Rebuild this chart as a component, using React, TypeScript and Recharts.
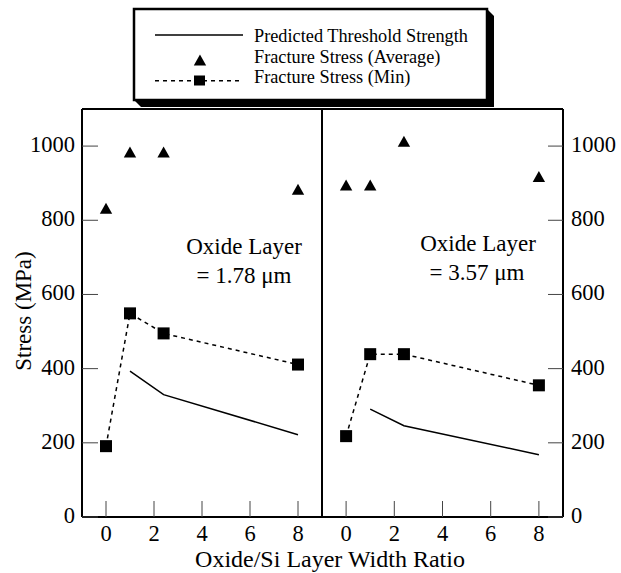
import React from 'react';
import { ComposedChart, Line, Scatter, XAxis, YAxis, ReferenceLine } from 'recharts';

// ---- data ----
const leftRatio = [0, 1, 2.4, 8];
const leftAvg = [831, 983, 983, 882];
const leftMin = [191, 549, 495, 411];
const leftPredRatio = [1, 2.4, 8];
const leftPred = [393, 330, 222];

const rightRatio = [0, 1, 2.4, 8];
const rightAvg = [894, 894, 1012, 917];
const rightMin = [218, 439, 439, 355];
const rightPredRatio = [1, 2.4, 8];
const rightPred = [291, 246, 168];

const xTicks = [0, 2, 4, 6, 8];
const yTicks = [0, 200, 400, 600, 800, 1000];
const xDomain = [-1, 9];
const yDomain = [0, 1100];

const legendLabels = ['Predicted Threshold Strength', 'Fracture Stress (Average)', 'Fracture Stress (Min)'];
const leftNote = ['Oxide Layer', '= 1.78 \u03bcm'];
const rightNote = ['Oxide Layer', '= 3.57 \u03bcm'];
const xTitle = 'Oxide/Si Layer Width Ratio';
const yTitle = 'Stress (MPa)';

const toPts = (xs: number[], ys: number[]) => xs.map((x, i) => ({ x, y: ys[i] }));

const FONT = '"Liberation Serif", "Times New Roman", Times, serif';
const TICK_FS = 22.5;

const BottomTick = (props: any) => {
  const { x, y, payload } = props;
  return (
    <g>
      <line x1={x} y1={y} x2={x} y2={y - 16} stroke="#444" strokeWidth={1} />
      <text x={x} y={y + 23.5} textAnchor="middle" fontFamily={FONT} fontSize={TICK_FS} fill="#000">
        {payload.value}
      </text>
    </g>
  );
};

const LeftTick = (props: any) => {
  const { x, y, payload } = props;
  return (
    <g>
      <line x1={x} y1={y} x2={x + 16} y2={y} stroke="#444" strokeWidth={1} />
      <text x={x - 7} y={y + 6} textAnchor="end" fontFamily={FONT} fontSize={TICK_FS} fill="#000">
        {payload.value}
      </text>
    </g>
  );
};

const RightTick = (props: any) => {
  const { x, y, payload } = props;
  return (
    <g>
      <line x1={x} y1={y} x2={x - 15} y2={y} stroke="#444" strokeWidth={1} />
      <text x={x + 8} y={y + 6} textAnchor="start" fontFamily={FONT} fontSize={TICK_FS} fill="#000">
        {payload.value}
      </text>
    </g>
  );
};

const Triangle = (p: any) => (
  <polygon
    points={`${p.cx},${p.cy - 6} ${p.cx + 6.2},${p.cy + 5} ${p.cx - 6.2},${p.cy + 5}`}
    fill="#000"
  />
);

const SquareDot = (p: any) => (
  <rect key={`sq-${p.index}`} x={p.cx - 6} y={p.cy - 6} width={12} height={12} fill="#000" />
);

const Panel = ({
  left,
  width,
  marginRight,
  leftAxisWidth,
  showLeftTicks,
  rightAxisWidth,
  ratio,
  avg,
  min,
  predRatio,
  pred,
}: any) => {
  const yid = showLeftTicks ? 'l' : 'r';
  return (
    <div style={{ position: 'absolute', left, top: 0, width, height: 573 }}>
      <ComposedChart
        width={width}
        height={573}
        margin={{ top: 109, right: marginRight, bottom: 26, left: 0 }}
      >
        <XAxis
          type="number"
          dataKey="x"
          domain={xDomain}
          ticks={xTicks}
          interval={0}
          tickSize={0}
          tickMargin={0}
          height={30}
          axisLine={{ stroke: '#000', strokeWidth: 2 }}
          tickLine={false}
          tick={<BottomTick />}
        />
        <YAxis
          yAxisId="l"
          type="number"
          dataKey="y"
          domain={yDomain}
          ticks={yTicks}
          interval={0}
          width={leftAxisWidth}
          tickSize={0}
          tickMargin={0}
          axisLine={{ stroke: '#000', strokeWidth: 2 }}
          tickLine={false}
          tick={showLeftTicks ? <LeftTick /> : false}
        />
        {rightAxisWidth ? (
          <YAxis
            yAxisId="r"
            orientation="right"
            type="number"
            dataKey="y"
            domain={yDomain}
            ticks={yTicks}
            interval={0}
            width={rightAxisWidth}
            tickSize={0}
            tickMargin={0}
            axisLine={{ stroke: '#000', strokeWidth: 2 }}
            tickLine={false}
            tick={<RightTick />}
          />
        ) : null}
        <ReferenceLine yAxisId={yid} y={1100} stroke="#000" strokeWidth={2} />
        <Line
          yAxisId={yid}
          data={toPts(predRatio, pred)}
          dataKey="y"
          type="linear"
          stroke="#000"
          strokeWidth={1.5}
          dot={false}
          isAnimationActive={false}
        />
        <Line
          yAxisId={yid}
          data={toPts(ratio, min)}
          dataKey="y"
          type="linear"
          stroke="#000"
          strokeWidth={1.5}
          strokeDasharray="4 4"
          dot={SquareDot}
          activeDot={false}
          isAnimationActive={false}
        />
        <Scatter
          yAxisId={yid}
          data={toPts(ratio, avg)}
          dataKey="y"
          shape={Triangle}
          isAnimationActive={false}
        />
      </ComposedChart>
    </div>
  );
};

export default function App() {
  return (
    <div style={{ position: 'absolute', left: 0, top: 0, width: 621, height: 573, background: '#fff' }}>
      <Panel
        left={0}
        width={324}
        marginRight={2}
        leftAxisWidth={82}
        showLeftTicks={true}
        rightAxisWidth={0}
        ratio={leftRatio}
        avg={leftAvg}
        min={leftMin}
        predRatio={leftPredRatio}
        pred={leftPred}
      />
      <Panel
        left={300}
        width={321}
        marginRight={0}
        leftAxisWidth={22}
        showLeftTicks={false}
        rightAxisWidth={58}
        ratio={rightRatio}
        avg={rightAvg}
        min={rightMin}
        predRatio={rightPredRatio}
        pred={rightPred}
      />
      <svg
        width={621}
        height={573}
        style={{ position: 'absolute', left: 0, top: 0, pointerEvents: 'none' }}
        fontFamily={FONT}
      >
        {/* legend box with shadow */}
        <polygon points="487,9 494,16 494,107 141,107 134,100" fill="#000" />
        <rect x={134} y={9} width={353} height={91} fill="#fff" stroke="#000" strokeWidth={2.5} />
        <line x1={155} y1={35} x2={243} y2={35} stroke="#000" strokeWidth={1.5} />
        <polygon points="200,54.5 206.2,65.5 193.8,65.5" fill="#000" />
        <line x1={155} y1={80.7} x2={243} y2={80.7} stroke="#000" strokeWidth={1.5} strokeDasharray="4 4" />
        <rect x={194} y={75.5} width={11} height={10} fill="#000" />
        <text x={254} y={41.5} fontSize={18.3} fill="#000">{legendLabels[0]}</text>
        <text x={254} y={62.5} fontSize={18.3} fill="#000">{legendLabels[1]}</text>
        <text x={254} y={83} fontSize={18.3} fill="#000">{legendLabels[2]}</text>

        {/* panel notes */}
        <text x={244} y={253.5} fontSize={23} textAnchor="middle" fill="#000">{leftNote[0]}</text>
        <text x={244} y={282.5} fontSize={23} textAnchor="middle" fill="#000">{leftNote[1]}</text>
        <text x={478} y={250.5} fontSize={23} textAnchor="middle" fill="#000">{rightNote[0]}</text>
        <text x={477} y={280} fontSize={23} textAnchor="middle" fill="#000">{rightNote[1]}</text>

        {/* axis titles */}
        <text x={330} y={567} fontSize={24} textAnchor="middle" fill="#000">{xTitle}</text>
        <text
          x={31}
          y={311}
          fontSize={23}
          textAnchor="middle"
          fill="#000"
          transform="rotate(-90 31 311)"
        >
          {yTitle}
        </text>
      </svg>
    </div>
  );
}
